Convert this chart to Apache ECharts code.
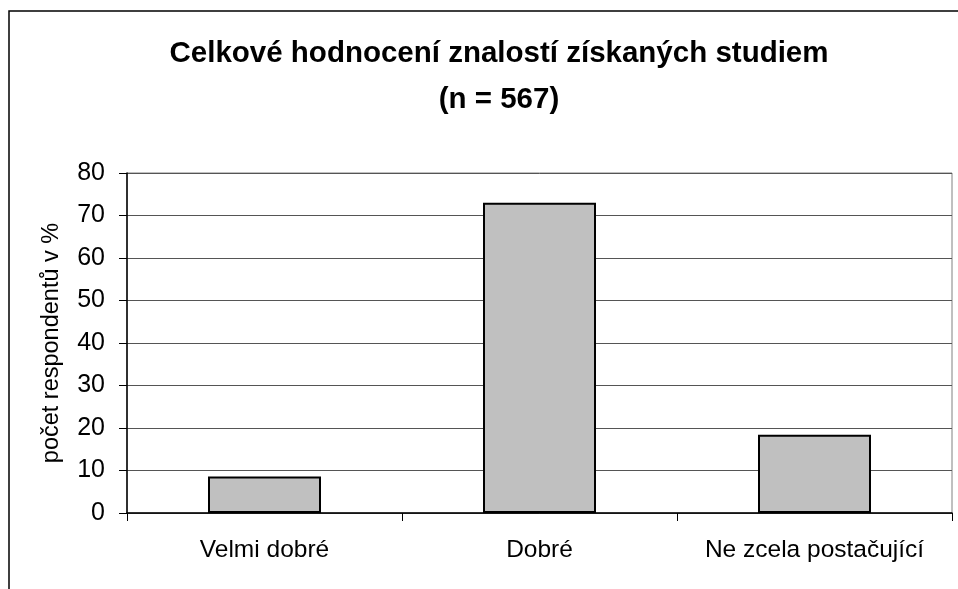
<!DOCTYPE html>
<html>
<head>
<meta charset="utf-8">
<title>Celkové hodnocení znalostí</title>
<script src="https://cdn.jsdelivr.net/npm/echarts@6/dist/echarts.min.js"></script>
<style>
  html, body { margin: 0; padding: 0; background: #fff; }
  #chart { width: 958px; height: 589px; }
</style>
</head>
<body>
<div id="chart"></div>
<script>
// data
var categories = ['Velmi dobré', 'Dobré', 'Ne zcela postačující'];
var values = [8.6, 73.0, 18.4];
var yTicks = { min: 0, max: 80, interval: 10 };

var FONT = '"Liberation Sans", Arial, sans-serif';

var chart = echarts.init(document.getElementById('chart'), null, { renderer: 'canvas' });

var option = {
  backgroundColor: '#fff',
  animation: false,
  // outer chart frame
  graphic: [{
    type: 'rect',
    shape: { x: 9, y: 11, width: 980, height: 620 },
    style: { fill: 'none', stroke: '#000', lineWidth: 1.5 },
    z: 0
  }],
  title: {
    text: 'Celkové hodnocení znalostí získaných studiem\n(n = 567)',
    left: 494,
    textAlign: 'center',
    top: 26,
    textStyle: {
      fontFamily: FONT,
      fontWeight: 'bold',
      fontSize: 29.5,
      lineHeight: 46,
      color: '#000'
    }
  },
  grid: {
    left: 127,
    right: 6,
    top: 173,
    bottom: 76,
    show: true,
    borderColor: '#808080',
    borderWidth: 1
  },
  xAxis: {
    type: 'category',
    data: categories,
    axisLine: { lineStyle: { color: '#000', width: 1.5 } },
    axisTick: { show: true, interval: 0, length: 8, lineStyle: { color: '#000' } },
    axisLabel: { interval: 0, fontFamily: FONT, fontSize: 24.5, color: '#000', margin: 25 }
  },
  yAxis: {
    type: 'value',
    min: yTicks.min,
    max: yTicks.max,
    interval: yTicks.interval,
    name: 'počet respondentů v %',
    nameLocation: 'middle',
    nameGap: 63,
    nameTextStyle: { fontFamily: FONT, fontSize: 23.5, color: '#000' },
    axisLine: { show: true, lineStyle: { color: '#000', width: 1.5 } },
    axisTick: { show: true, length: 8, lineStyle: { color: '#000' } },
    axisLabel: { fontFamily: FONT, fontSize: 25, color: '#000', margin: 22 },
    splitLine: { lineStyle: { color: '#555', width: 1 } }
  },
  series: [{
    type: 'bar',
    data: values,
    barWidth: 113,
    itemStyle: { color: '#c0c0c0', borderColor: '#000', borderWidth: 2 }
  }]
};

chart.setOption(option);
</script>
</body>
</html>
